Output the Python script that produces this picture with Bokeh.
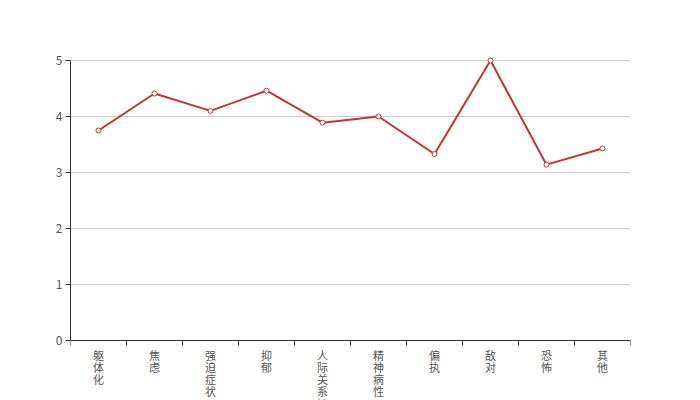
from bokeh.plotting import figure
from bokeh.models import Range1d, FixedTicker, ColumnDataSource
from bokeh.embed import file_html
from bokeh.resources import INLINE

categories = ["躯体化", "焦虑", "强迫症状", "抑郁", "人际关系敏感", "精神病性", "偏执", "敌对", "恐怖", "其他"]
values = [3.75, 4.41, 4.10, 4.46, 3.89, 4.00, 3.33, 5.00, 3.14, 3.43]
y_ticks = [0, 1, 2, 3, 4, 5]

FONT = "Noto Sans CJK SC"
LINE_COLOR = "#c23531"
AXIS_COLOR = "#333333"
LABEL_COLOR = "#555555"

n = len(categories)
xs = [i + 0.5 for i in range(n)]

W, H = 700, 400
LEFT, RIGHT, TOP = 70, 70, 60
PAD = 6       # extra frame room above the top grid line so markers are not clipped
PLOT_H = 280  # pixels from y=0 to y=5
y_max = y_ticks[-1]
unit = PLOT_H / y_max
y_min = -(H - TOP - PLOT_H) / unit
y_top = y_max + PAD / unit

p = figure(width=W, height=H, output_backend="svg", toolbar_location=None,
           x_range=Range1d(0, n), y_range=Range1d(y_min, y_top),
           min_border_left=LEFT, min_border_right=RIGHT,
           min_border_top=TOP - PAD, min_border_bottom=0)
p.outline_line_color = None
p.background_fill_color = "white"
p.border_fill_color = "white"

xax = p.xaxis[0]
xax.fixed_location = 0
xax.ticker = FixedTicker(ticks=xs, minor_ticks=list(range(n + 1)))
xax.major_label_overrides = {x: "\n".join(c) for x, c in zip(xs, categories)}
xax.major_tick_out = 0
xax.major_tick_in = 0
xax.minor_tick_out = 5
xax.minor_tick_in = 0
xax.axis_line_color = AXIS_COLOR
xax.minor_tick_line_color = AXIS_COLOR
xax.major_label_text_color = LABEL_COLOR
xax.major_label_text_font = FONT
xax.major_label_text_font_size = "11px"
xax.major_label_text_line_height = 0.77
xax.major_label_standoff = 1

yax = p.yaxis[0]
yax.bounds = (0, y_max)
yax.ticker = FixedTicker(ticks=y_ticks)
yax.major_tick_out = 5
yax.major_tick_in = 0
yax.minor_tick_out = 0
yax.minor_tick_in = 0
yax.axis_line_color = AXIS_COLOR
yax.major_tick_line_color = AXIS_COLOR
yax.major_label_text_color = LABEL_COLOR
yax.major_label_text_font = FONT
yax.major_label_text_font_size = "12px"
yax.major_label_standoff = 3

p.xgrid.grid_line_color = None
p.ygrid.ticker = FixedTicker(ticks=y_ticks[1:])
p.ygrid.grid_line_color = "#cccccc"
p.ygrid.grid_line_width = 1

src = ColumnDataSource(dict(x=xs, y=values))
p.line("x", "y", source=src, line_color=LINE_COLOR, line_width=2)
p.scatter("x", "y", source=src, marker="circle", size=5,
          fill_color="white", line_color=LINE_COLOR, line_width=1)

open("out.html", "w").write(file_html(p, INLINE))
